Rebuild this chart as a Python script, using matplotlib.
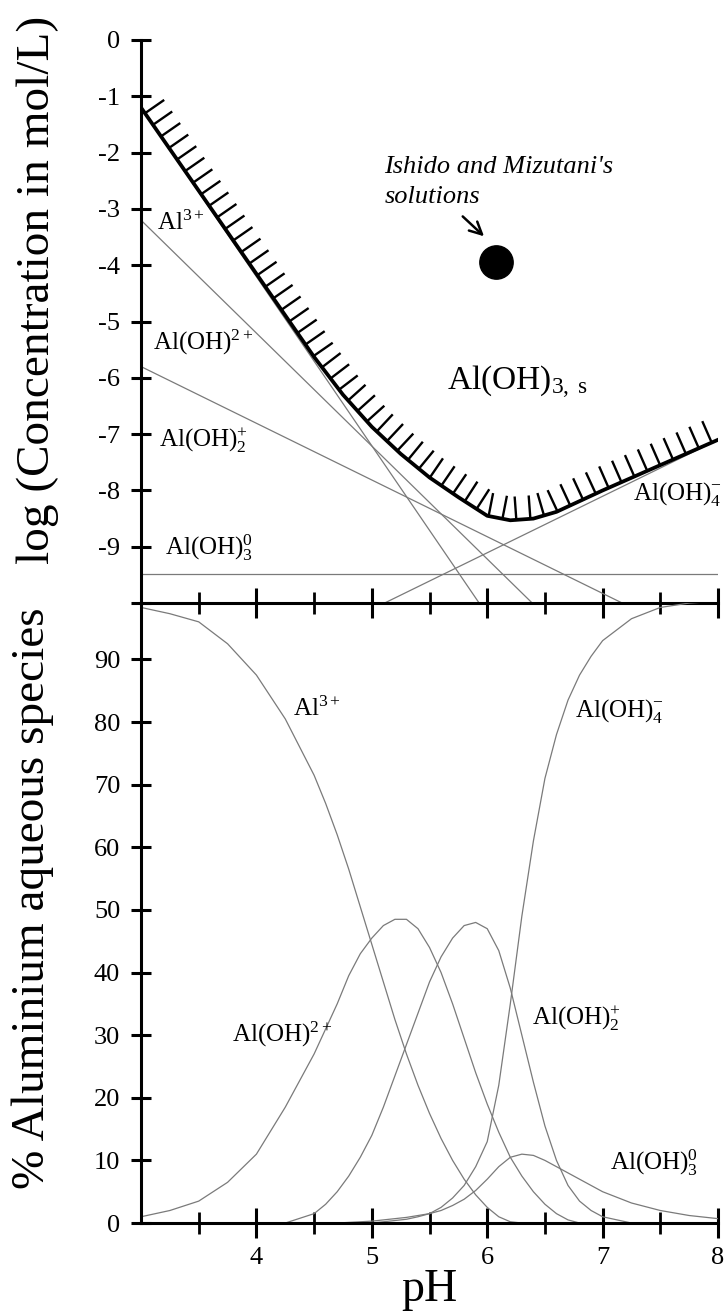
import numpy as np
import matplotlib.pyplot as plt
from matplotlib import patheffects

plt.rcParams['font.family'] = ['Liberation Serif', 'DejaVu Serif']
plt.rcParams['mathtext.fontset'] = 'custom'
plt.rcParams['mathtext.rm'] = 'Liberation Serif'
plt.rcParams['mathtext.it'] = 'Liberation Serif:italic'
plt.rcParams['axes.unicode_minus'] = False

# ---- top panel: log concentration of each species (end points of the lines)
al3_ph, al3_log = [3.0, 5.93], [-1.2, -10.0]
aloh_ph, aloh_log = [3.0, 6.39], [-3.2, -10.0]
aloh2_ph, aloh2_log = [3.0, 7.17], [-5.8, -10.0]
aloh3_ph, aloh3_log = [3.0, 8.0], [-9.48, -9.48]
aloh4_ph, aloh4_log = [5.11, 8.0], [-10.0, -7.1]

# total solubility of Al(OH)3,s (thick hatched line)
total_ph = [3.0, 4.5, 4.75, 5.0, 5.25, 5.5, 5.75, 6.0, 6.2, 6.4, 6.6, 7.0, 7.5, 8.0]
total_log = [-1.2, -5.63, -6.3, -6.87, -7.35, -7.77, -8.12, -8.45, -8.53, -8.5, -8.38,
             -8.0, -7.55, -7.1]

# Ishido and Mizutani's solutions
point_ph, point_log = 6.08, -3.94

# ---- bottom panel: % of aluminium aqueous species
ph = [3.0, 3.25, 3.5, 3.75, 4.0, 4.25, 4.5, 4.6, 4.7, 4.8, 4.9, 5.0, 5.1, 5.2, 5.3,
      5.4, 5.5, 5.6, 5.7, 5.8, 5.9, 6.0, 6.1, 6.2, 6.3, 6.4, 6.5, 6.6, 6.7, 6.8, 6.9,
      7.0, 7.25, 7.5, 7.75, 8.0]
pct_al3 = [98.3, 97.3, 96.0, 92.5, 87.5, 80.5, 71.5, 67.0, 62.0, 56.5, 50.5, 44.5,
           38.5, 32.5, 27.0, 22.0, 17.5, 13.5, 10.0, 7.0, 4.5, 2.5, 1.0, 0.2, 0, 0, 0,
           0, 0, 0, 0, 0, 0, 0, 0, 0]
pct_aloh = [1.0, 2.0, 3.5, 6.5, 11.0, 18.5, 27.0, 31.0, 35.0, 39.5, 43.0, 45.5, 47.5,
            48.5, 48.5, 47.0, 44.0, 40.0, 35.0, 29.5, 24.0, 19.0, 14.5, 10.5, 7.5, 5.0,
            3.0, 1.5, 0.5, 0, 0, 0, 0, 0, 0, 0]
pct_aloh2 = [0, 0, 0, 0, 0, 0, 1.5, 3.0, 5.0, 7.5, 10.5, 14.0, 18.5, 23.5, 28.5, 33.5,
             38.5, 42.5, 45.5, 47.5, 48.0, 47.0, 43.5, 37.5, 30.0, 22.5, 15.5, 10.0,
             6.0, 3.5, 2.0, 1.0, 0, 0, 0, 0]
pct_aloh3 = [0, 0, 0, 0, 0, 0, 0, 0, 0, 0.1, 0.2, 0.3, 0.5, 0.7, 0.9, 1.2, 1.5, 2.0,
             2.8, 3.8, 5.2, 7.0, 9.0, 10.5, 11.0, 10.8, 10.0, 9.0, 8.0, 7.0, 6.0, 5.0,
             3.2, 2.0, 1.2, 0.7]
pct_aloh4 = [0, 0, 0, 0, 0, 0, 0, 0, 0, 0, 0, 0, 0.2, 0.4, 0.6, 1.0, 1.5, 2.5, 4.0,
             6.0, 9.0, 13.0, 22.0, 35.0, 49.0, 61.0, 71.0, 78.0, 83.5, 87.5, 90.5, 93.0,
             96.5, 98.3, 99.0, 99.3]

top_yticks = list(range(-10, 1))
top_ylabels = [''] + [str(v) for v in range(-9, 1)]
bot_yticks = list(range(0, 100, 10))
x_major = [4, 5, 6, 7, 8]
x_minor = [3.5, 4.5, 5.5, 6.5, 7.5]

gray = '#7a7a7a'
fig = plt.figure(figsize=(7.25, 13.11), dpi=100)
ax1 = fig.add_axes([0.1945, 0.5400, 0.7959, 0.4295])
ax2 = fig.add_axes([0.1945, 0.0671, 0.7959, 0.4729])

# top panel
for xs, ys in [(al3_ph, al3_log), (aloh_ph, aloh_log), (aloh2_ph, aloh2_log),
               (aloh3_ph, aloh3_log), (aloh4_ph, aloh4_log)]:
    ax1.plot(xs, ys, color=gray, lw=0.9)
ax1.plot(total_ph, total_log, color='black', lw=2.7, solid_joinstyle='round',
         path_effects=[patheffects.Normal(),
                       patheffects.TickedStroke(spacing=10, angle=90, length=1.6,
                                                linewidth=1.7)])
ax1.plot(point_ph, point_log, 'o', color='black', ms=24)
ax1.annotate('', xy=(5.99, -3.52), xytext=(5.77, -3.1),
             arrowprops=dict(arrowstyle='->', lw=1.8, color='black', mutation_scale=22))
ax1.text(5.11, -2.36, "Ishido and Mizutani's", fontsize=19, style='italic')
ax1.text(5.11, -2.9, 'solutions', fontsize=19, style='italic')
ax1.text(5.65, -6.22, r'Al(OH)$_{\mathrm{3,\ s}}$', fontsize=24)

ax1.text(3.14, -3.37, r'Al$^{3+}$', fontsize=18)
ax1.text(3.10, -5.5, r'Al(OH)$^{2+}$', fontsize=18)
ax1.text(3.16, -7.23, r'Al(OH)$_{2}^{+}$', fontsize=18)
ax1.text(3.21, -9.15, r'Al(OH)$_{3}^{0}$', fontsize=18)
ax1.text(7.26, -8.17, r'Al(OH)$_{4}^{-}$', fontsize=18)

# bottom panel
for ys in [pct_al3, pct_aloh, pct_aloh2, pct_aloh3, pct_aloh4]:
    ax2.plot(ph, ys, color=gray, lw=0.9)
ax2.text(4.32, 81.0, r'Al$^{3+}$', fontsize=18)
ax2.text(6.76, 80.8, r'Al(OH)$_{4}^{-}$', fontsize=18)
ax2.text(3.79, 28.9, r'Al(OH)$^{2+}$', fontsize=18)
ax2.text(6.39, 31.6, r'Al(OH)$_{2}^{+}$', fontsize=18)
ax2.text(7.06, 8.5, r'Al(OH)$_{3}^{0}$', fontsize=18)

for ax in (ax1, ax2):
    ax.set_facecolor('none')
    ax.set_xlim(3, 8)
    ax.spines['top'].set_visible(False)
    ax.spines['right'].set_visible(False)
    ax.spines['left'].set_linewidth(2.2)
    ax.spines['bottom'].set_linewidth(2.2)
    ax.set_xticks(x_major)
    ax.set_xticks(x_minor, minor=True)
    ax.tick_params(axis='x', which='major', direction='inout', length=22, width=2.2,
                   labelsize=19, pad=6)
    ax.tick_params(axis='x', which='minor', direction='inout', length=16, width=2.0)
    ax.tick_params(axis='y', direction='inout', length=14, width=2.2, labelsize=19,
                   pad=8)

ax1.set_ylim(-10, 0)
ax1.set_yticks(top_yticks)
ax1.set_yticklabels(top_ylabels)
ax1.tick_params(axis='x', labelbottom=False)
ax2.set_ylim(0, 99)
ax2.set_yticks(bot_yticks)
ax2.set_xticklabels([str(v) for v in x_major])

fig.text(0.052, 0.779, 'log (Concentration in mol/L)', rotation=90, ha='center',
         va='center', fontsize=34)
fig.text(0.045, 0.315, '% Aluminium aqueous species', rotation=90, ha='center',
         va='center', fontsize=34)
fig.text(0.592, 0.016, 'pH', ha='center', va='center', fontsize=33)

fig.savefig('out.png', dpi=100)
